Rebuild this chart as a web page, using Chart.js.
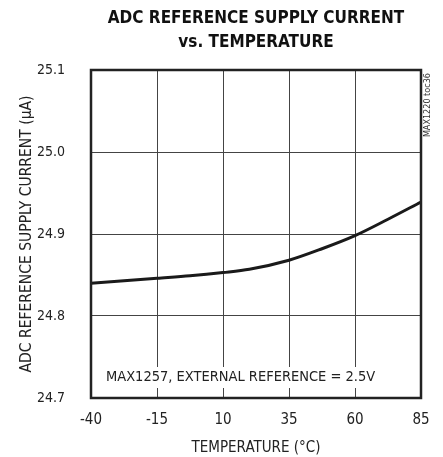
<!DOCTYPE html>
<html>
<head>
<meta charset="utf-8">
<script src="https://cdn.jsdelivr.net/npm/chart.js@4"></script>
<style>
  html, body { margin: 0; padding: 0; background: #fff; }
  #wrap { width: 443px; height: 457px; }
</style>
</head>
<body>
<div id="wrap"><canvas id="chart" width="443" height="457"></canvas></div>
<script>
// data
const temps = [-40, -27.5, -15, -2.5, 10, 20, 35, 47.5, 60, 72.5, 85];
const current = [24.840, 24.843, 24.846, 24.849, 24.853, 24.857, 24.868, 24.882, 24.898, 24.918, 24.939];

const xTicks = [-40, -15, 10, 35, 60, 85];
const yTicks = [24.7, 24.8, 24.9, 25.0, 25.1];

const titleLines = ["ADC REFERENCE SUPPLY CURRENT", "vs. TEMPERATURE"];
const note = "MAX1257, EXTERNAL REFERENCE = 2.5V";
const sideNote = "MAX1220 toc36";

const FONT = "'DejaVu Sans Condensed', 'Liberation Sans', sans-serif";

const extras = {
  id: "extras",
  beforeDatasetsDraw(chart) {
    const { ctx, chartArea: a } = chart;
    // white strip behind the note, leaves short ticks at the bottom
    ctx.save();
    ctx.fillStyle = "#fff";
    ctx.fillRect(a.left + 1, 367, a.right - a.left - 2, 21);
    ctx.fillStyle = "#222";
    ctx.font = "14.5px " + FONT;
    ctx.textBaseline = "middle";
    ctx.fillText(note, a.left + 15, 377);
    ctx.restore();
  },
  afterDraw(chart) {
    const { ctx, chartArea: a } = chart;
    ctx.save();
    // title, centred over the plot box
    const cx = (a.left + a.right) / 2;
    ctx.fillStyle = "#111";
    ctx.font = "bold 17px " + FONT;
    ctx.textAlign = "center";
    ctx.textBaseline = "middle";
    ctx.fillText(titleLines[0], cx, 19);
    ctx.fillText(titleLines[1], cx, 43);

    ctx.strokeStyle = "#222";
    ctx.lineWidth = 2.5;
    ctx.strokeRect(a.left, a.top, a.right - a.left, a.bottom - a.top);
    // rotated side label
    ctx.translate(a.right + 7, a.top + 3);
    ctx.rotate(-Math.PI / 2);
    ctx.fillStyle = "#333";
    ctx.font = "9px " + FONT;
    ctx.textAlign = "right";
    ctx.fillText(sideNote, 0, 0);
    ctx.restore();
  }
};

new Chart(document.getElementById("chart"), {
  type: "line",
  data: {
    datasets: [{
      data: temps.map((t, i) => ({ x: t, y: current[i] })),
      borderColor: "#1a1a1a",
      borderWidth: 3,
      pointRadius: 0,
      cubicInterpolationMode: "monotone",
      fill: false
    }]
  },
  options: {
    responsive: false,
    animation: false,
    layout: { padding: { top: 70, right: 22, left: 0, bottom: 0 } },
    plugins: {
      legend: { display: false },
      tooltip: { enabled: false },
      title: { display: false }
    },
    scales: {
      x: {
        type: "linear",
        min: -40,
        max: 85,
        afterBuildTicks: (s) => { s.ticks = xTicks.map(v => ({ value: v })); },
        afterFit: (s) => { s.height = 59; },
        grid: { color: "#444", lineWidth: 1, drawTicks: false },
        border: { display: false },
        ticks: { color: "#222", padding: 13, font: { family: FONT, size: 15 } },
        title: {
          display: true,
          text: "TEMPERATURE (°C)",
          color: "#222",
          font: { family: FONT, size: 15 },
          padding: { top: 7, bottom: 0 }
        }
      },
      y: {
        min: 24.7,
        max: 25.1,
        afterBuildTicks: (s) => { s.ticks = yTicks.map(v => ({ value: v })); },
        afterFit: (s) => { s.width = 91; },
        grid: { color: "#444", lineWidth: 1, drawTicks: false },
        border: { display: false },
        ticks: {
          color: "#222",
          padding: 26,
          font: { family: FONT, size: 14 },
          callback: (v) => Number(v).toFixed(1)
        },
        title: {
          display: true,
          text: "ADC REFERENCE SUPPLY CURRENT (µA)",
          color: "#222",
          font: { family: FONT, size: 15.5 },
          padding: { top: 18, bottom: 0 }
        }
      }
    }
  },
  plugins: [extras]
});
</script>
</body>
</html>
